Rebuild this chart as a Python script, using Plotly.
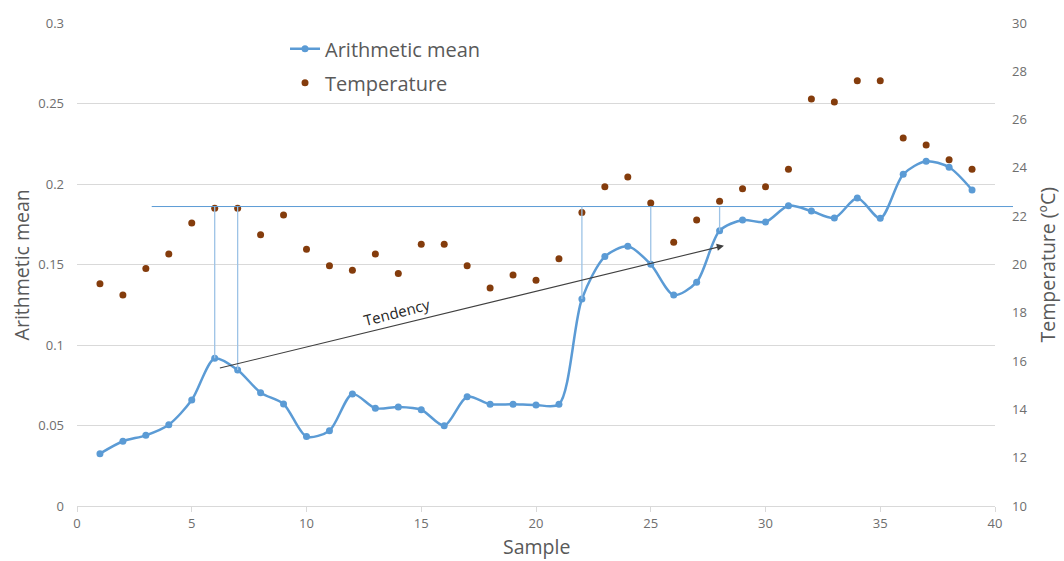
import plotly.graph_objects as go

# ---- data ----
samples = list(range(1, 40))
arithmetic_mean = [0.0325, 0.0402, 0.0439, 0.0505, 0.0658, 0.0917, 0.0845, 0.0704, 0.0634, 0.0431,
                   0.0468, 0.0696, 0.0607, 0.0615, 0.0598, 0.0499, 0.0679, 0.0632, 0.0632, 0.0627,
                   0.0632, 0.1286, 0.1549, 0.1613, 0.1501, 0.1310, 0.1390, 0.1710, 0.1776, 0.1764,
                   0.1865, 0.1832, 0.1789, 0.1913, 0.1787, 0.2060, 0.2141, 0.2104, 0.1963]
temperature = [19.20, 18.74, 19.83, 20.43, 21.72, 22.33, 22.33, 21.23, 22.05, 20.63,
               19.95, 19.76, 20.43, 19.63, 20.84, 20.84, 19.95, 19.03, 19.57, 19.35,
               20.24, 22.15, 23.22, 23.62, 22.55, 20.92, 21.84, 22.62, 23.14, 23.22,
               23.94, 26.85, 26.73, 27.61, 27.61, 25.24, 24.95, 24.34, 23.94]
ref_level = 0.186                 # horizontal reference level (left axis)
connector_samples = [6, 7, 22, 25, 28]
tendency_start = (6.16, 0.0855)
tendency_end = (28.19, 0.1617)
x_ticks = [0, 5, 10, 15, 20, 25, 30, 35, 40]

BLUE = "#5B9BD5"
BROWN = "#843C0C"
GRID = "#D9D9D9"
TICK = "#6E6E6E"
TITLE = "#595959"
FONT = "Open Sans"

fig = go.Figure()
fig.add_trace(go.Scatter(
    x=samples, y=arithmetic_mean, name="Arithmetic mean", mode="lines+markers",
    legendgroup="a",
    line=dict(color=BLUE, width=2.5, shape="spline", smoothing=0.8),
    marker=dict(color=BLUE, size=7), yaxis="y"))
fig.add_trace(go.Scatter(
    x=samples, y=temperature, name="Temperature", mode="markers",
    legendgroup="b",
    marker=dict(color=BROWN, size=7), yaxis="y2"))

shapes = []
# horizontal reference line (extends slightly past plot area)
shapes.append(dict(type="line", xref="paper", yref="y", x0=0.0814, x1=1.0196,
                   y0=ref_level, y1=ref_level, line=dict(color=BLUE, width=1)))
for s in connector_samples:
    shapes.append(dict(type="line", xref="x", yref="y", x0=s, x1=s,
                       y0=ref_level, y1=arithmetic_mean[s - 1],
                       line=dict(color="#9DC3E6", width=1.3)))

annotations = [
    dict(x=tendency_end[0], y=tendency_end[1], ax=tendency_start[0], ay=tendency_start[1],
         xref="x", yref="y", axref="x", ayref="y", showarrow=True, arrowhead=2,
         arrowsize=1.3, arrowwidth=1.1, arrowcolor="#404040", text=""),
    dict(x=13.94, y=0.1205, xref="x", yref="y", text="Tendency", showarrow=False,
         textangle=-14.5, font=dict(family=FONT, size=15, color="#262626")),
]
# axis titles as annotations
annotations.append(dict(x=-0.06, y=0.5, xref="paper", yref="paper", text="Arithmetic mean",
                        textangle=-90, showarrow=False, xanchor="center", yanchor="middle",
                        font=dict(family=FONT, size=19.5, color=TITLE)))
annotations.append(dict(x=1.0577, y=0.5, xref="paper", yref="paper", text="Temperature (ºC)",
                        textangle=-90, showarrow=False, xanchor="center", yanchor="middle",
                        font=dict(family=FONT, size=19.5, color=TITLE)))
annotations.append(dict(x=0.5, y=-0.084, xref="paper", yref="paper", text="Sample",
                        showarrow=False, xanchor="center", yanchor="middle",
                        font=dict(family=FONT, size=19.5, color=TITLE)))

fig.update_layout(
    width=1064, height=561,
    margin=dict(l=77, r=69, t=23, b=55),
    paper_bgcolor="white", plot_bgcolor="white",
    font=dict(family=FONT, color=TICK),
    xaxis=dict(range=[0, 40], tickvals=x_ticks, showgrid=False, zeroline=False,
               showline=True, linecolor=GRID, linewidth=1, ticks="outside", ticklen=5,
               tickcolor=GRID, tickfont=dict(size=13, color=TICK)),
    yaxis=dict(range=[0, 0.3], dtick=0.05, showgrid=True, gridcolor=GRID, gridwidth=1,
               zeroline=False, showline=False, ticks="", tickfont=dict(size=13, color=TICK),
               ticklabelstandoff=12),
    yaxis2=dict(range=[10, 30], dtick=2, overlaying="y", side="right", showgrid=False,
                zeroline=False, showline=False, ticks="", tickfont=dict(size=13, color=TICK),
                ticklabelstandoff=16),
    showlegend=True,
    legend=dict(x=0.2266, y=0.987, xanchor="left", yanchor="top", bgcolor="rgba(0,0,0,0)",
                font=dict(family=FONT, size=20, color=TITLE), tracegroupgap=5),
    shapes=shapes, annotations=annotations,
)

fig.write_html("out.html")
